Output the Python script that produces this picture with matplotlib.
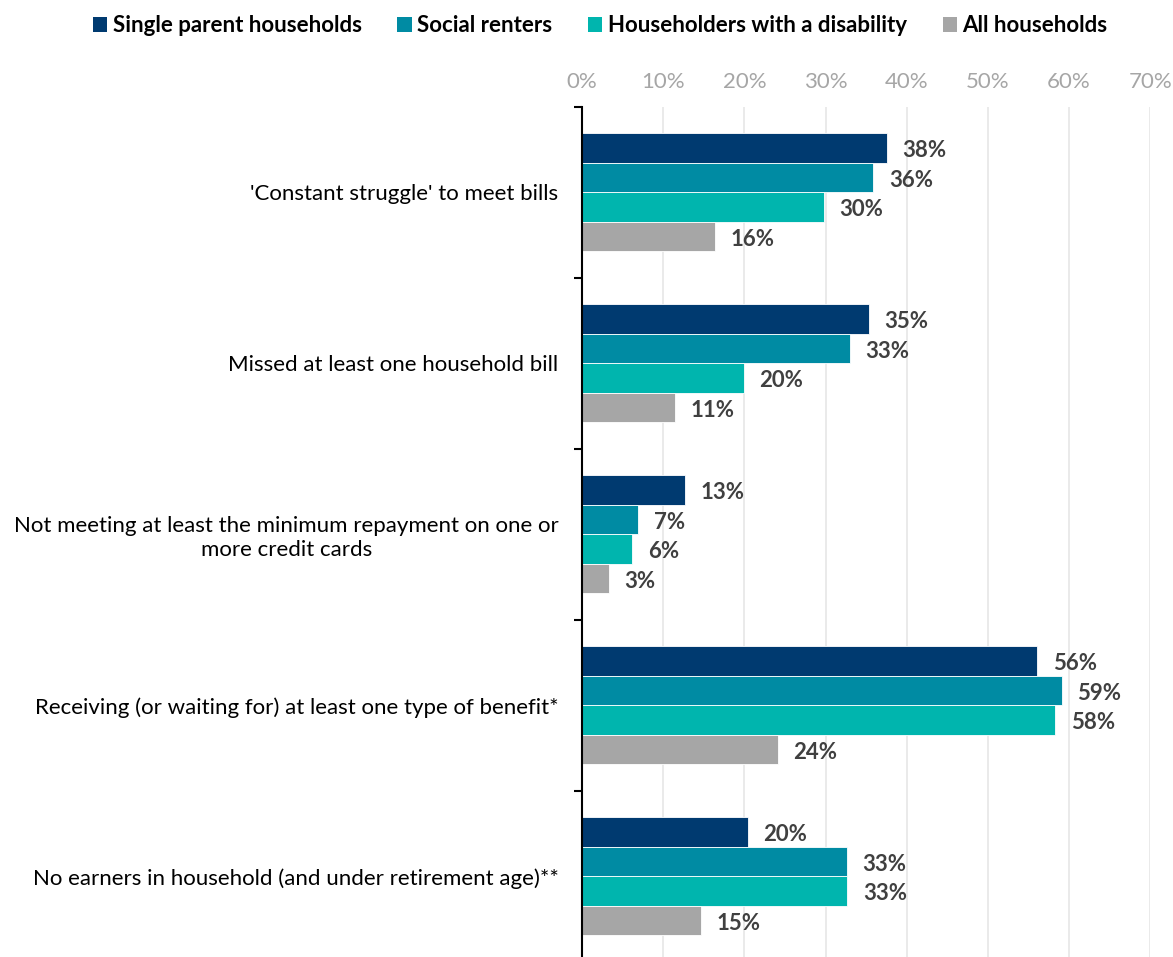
import matplotlib
matplotlib.use("Agg")
import matplotlib.pyplot as plt
import numpy as np
from matplotlib.patches import Patch
from matplotlib.ticker import FuncFormatter, MultipleLocator

plt.rcParams['font.family'] = ['Lato', 'DejaVu Sans']

# data (percent)
categories = [
    "'Constant struggle' to meet bills",
    "Missed at least one household bill",
    "Not meeting at least the minimum repayment on one or\nmore credit cards",
    "Receiving (or waiting for) at least one type of benefit*",
    "No earners in household (and under retirement age)**",
]
series_names = ["Single parent households", "Social renters",
                "Householders with a disability", "All households"]
single_parent = [37.6, 35.3, 12.7, 56.1, 20.4]
social_renters = [35.9, 33.0, 6.9, 59.1, 32.6]
disability = [29.8, 19.9, 6.2, 58.3, 32.7]
all_households = [16.4, 11.4, 3.3, 24.1, 14.7]

series = [single_parent, social_renters, disability, all_households]
colors = ['#003A70', '#008BA3', '#00B5AE', '#A6A6A6']

fig = plt.figure(figsize=(11.73, 9.57), dpi=100)
ax = fig.add_axes([0.4963, -0.0052, 0.4842, 0.8934])

n = len(categories)
y = np.arange(n)
h = 0.1725
for i, (vals, c) in enumerate(zip(series, colors)):
    pos = y + (i - 1.5) * h
    ax.barh(pos, vals, height=h, color=c, edgecolor='white', linewidth=0.6, zorder=3)
    for p, v in zip(pos, vals):
        ax.text(v + 1.9, p + 0.015, f"{v:.0f}%", va='center', ha='left',
                fontsize=16, fontweight='bold', color='#404040')

ax.set_xlim(0, 70)
ax.set_ylim(n - 0.5, -0.5)
ax.xaxis.set_major_locator(MultipleLocator(10))
ax.xaxis.set_major_formatter(FuncFormatter(lambda v, _: f"{v:.0f}%"))
ax.xaxis.tick_top()
ax.tick_params(axis='x', length=0, pad=11, labelsize=16, labelcolor='#A6A6A6')
ax.grid(axis='x', color='#E6E6E6', linewidth=1.2, zorder=0)

ax.set_yticks(y)
ax.set_yticklabels(categories, fontsize=16, color='black', ha='right',
                   linespacing=1.25)
ax.tick_params(axis='y', which='major', length=0, pad=17)
ax.set_yticks(np.arange(n + 1) - 0.5, minor=True)
ax.tick_params(axis='y', which='minor', length=6, width=1.5, color='black')
for lbl in ax.get_yticklabels():
    lbl.set_multialignment('center')

for s in ['top', 'right', 'bottom']:
    ax.spines[s].set_visible(False)
ax.spines['left'].set_linewidth(1.5)
ax.spines['left'].set_zorder(4)

handles = [Patch(facecolor=c, edgecolor='none') for c in colors]
leg = fig.legend(handles, series_names, loc='upper left', bbox_to_anchor=(0.062, 1.005),
                 ncol=4, frameon=False, handlelength=0.65, handleheight=0.65,
                 handletextpad=0.25, columnspacing=1.6,
                 prop={'size': 16, 'weight': 'bold'})

fig.savefig('out.png', dpi=100)
